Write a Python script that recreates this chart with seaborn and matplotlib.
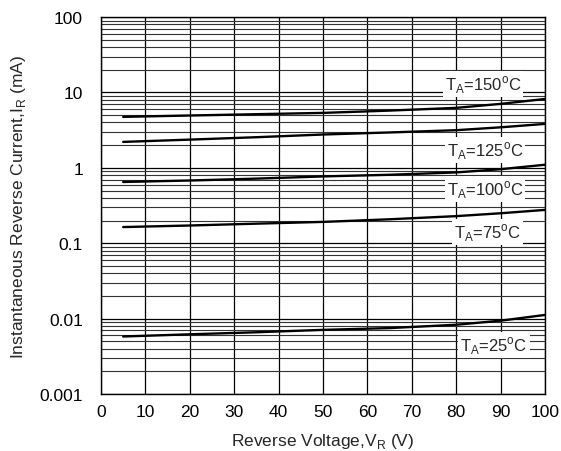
import numpy as np
import pandas as pd
import matplotlib
matplotlib.use("Agg")
import matplotlib.pyplot as plt
from matplotlib.ticker import FixedLocator, FixedFormatter, LogLocator
import seaborn as sns

# Reverse voltage points (V)
voltage = [5, 20, 35, 50, 65, 80, 90, 100]

# Reverse current (mA) for each ambient temperature
current_150 = [4.75, 4.95, 5.15, 5.36, 5.75, 6.25, 7.06, 8.2]
current_125 = [2.21, 2.37, 2.55, 2.77, 2.95, 3.16, 3.45, 3.83]
current_100 = [0.65, 0.68, 0.72, 0.77, 0.81, 0.87, 0.96, 1.1]
current_75 = [0.164, 0.172, 0.182, 0.192, 0.208, 0.229, 0.25, 0.277]
current_25 = [0.0058, 0.0062, 0.0066, 0.0071, 0.0075, 0.0083, 0.0094, 0.0112]

labels = ["150", "125", "100", "75", "25"]
label_x = [86, 86.5, 86.5, 87, 88.5]
label_y = [13, 1.73, 0.53, 0.142, 0.0045]

y_ticks = [0.001, 0.01, 0.1, 1, 10, 100]
y_ticklabels = ["0.001", "0.01", "0.1", "1", "10", "100"]
x_ticks = [0, 10, 20, 30, 40, 50, 60, 70, 80, 90, 100]

sns.set_style("white")
plt.rcParams['font.family'] = ['Liberation Sans', 'DejaVu Sans']
plt.rcParams['mathtext.fontset'] = 'custom'
plt.rcParams['mathtext.rm'] = 'Liberation Sans'

series = [current_150, current_125, current_100, current_75, current_25]
frames = []
for lab, cur in zip(labels, series):
    frames.append(pd.DataFrame({"V": voltage, "I": cur, "T": lab}))
df = pd.concat(frames, ignore_index=True)

fig = plt.figure(figsize=(5.61, 4.52), dpi=100)
ax = fig.add_axes([0.18, 0.126, 0.7915, 0.834])

ax.set_yscale("log")
ax.set_xlim(0, 100)
ax.set_ylim(0.001, 100)

# graph-paper grid
ax.set_xticks(x_ticks)
ax.yaxis.set_major_locator(FixedLocator(y_ticks))
ax.yaxis.set_major_formatter(FixedFormatter(y_ticklabels))
ax.yaxis.set_minor_locator(LogLocator(base=10, subs=np.arange(2, 10)))
ax.grid(True, which="major", color="black", lw=0.9)
ax.grid(True, which="minor", axis="y", color="#333333", lw=0.8)
ax.tick_params(which="both", length=0, labelsize=12.5, colors="black")
ax.xaxis.set_tick_params(pad=7)
ax.yaxis.set_tick_params(pad=13)

for sp in ax.spines.values():
    sp.set_color("black")
    sp.set_linewidth(1.0)

sns.lineplot(data=df, x="V", y="I", units="T", estimator=None, color="black",
             lw=1.7, ax=ax, legend=False)

for lab, lx, ly in zip(labels, label_x, label_y):
    ax.text(lx, ly, r"T$_\mathregular{A}$=" + lab + r"$^\mathregular{o}$C",
            fontsize=12, ha="center", va="center", zorder=5,
            bbox=dict(facecolor="white", edgecolor="none", pad=1.5))

ax.set_xlabel(r"Reverse Voltage,V$_\mathregular{R}$ (V)", fontsize=12.5, labelpad=9)
ax.set_ylabel(r"Instantaneous Reverse Current,I$_\mathregular{R}$ (mA)", fontsize=12.5, labelpad=8)

fig.savefig("out.png", dpi=100)
